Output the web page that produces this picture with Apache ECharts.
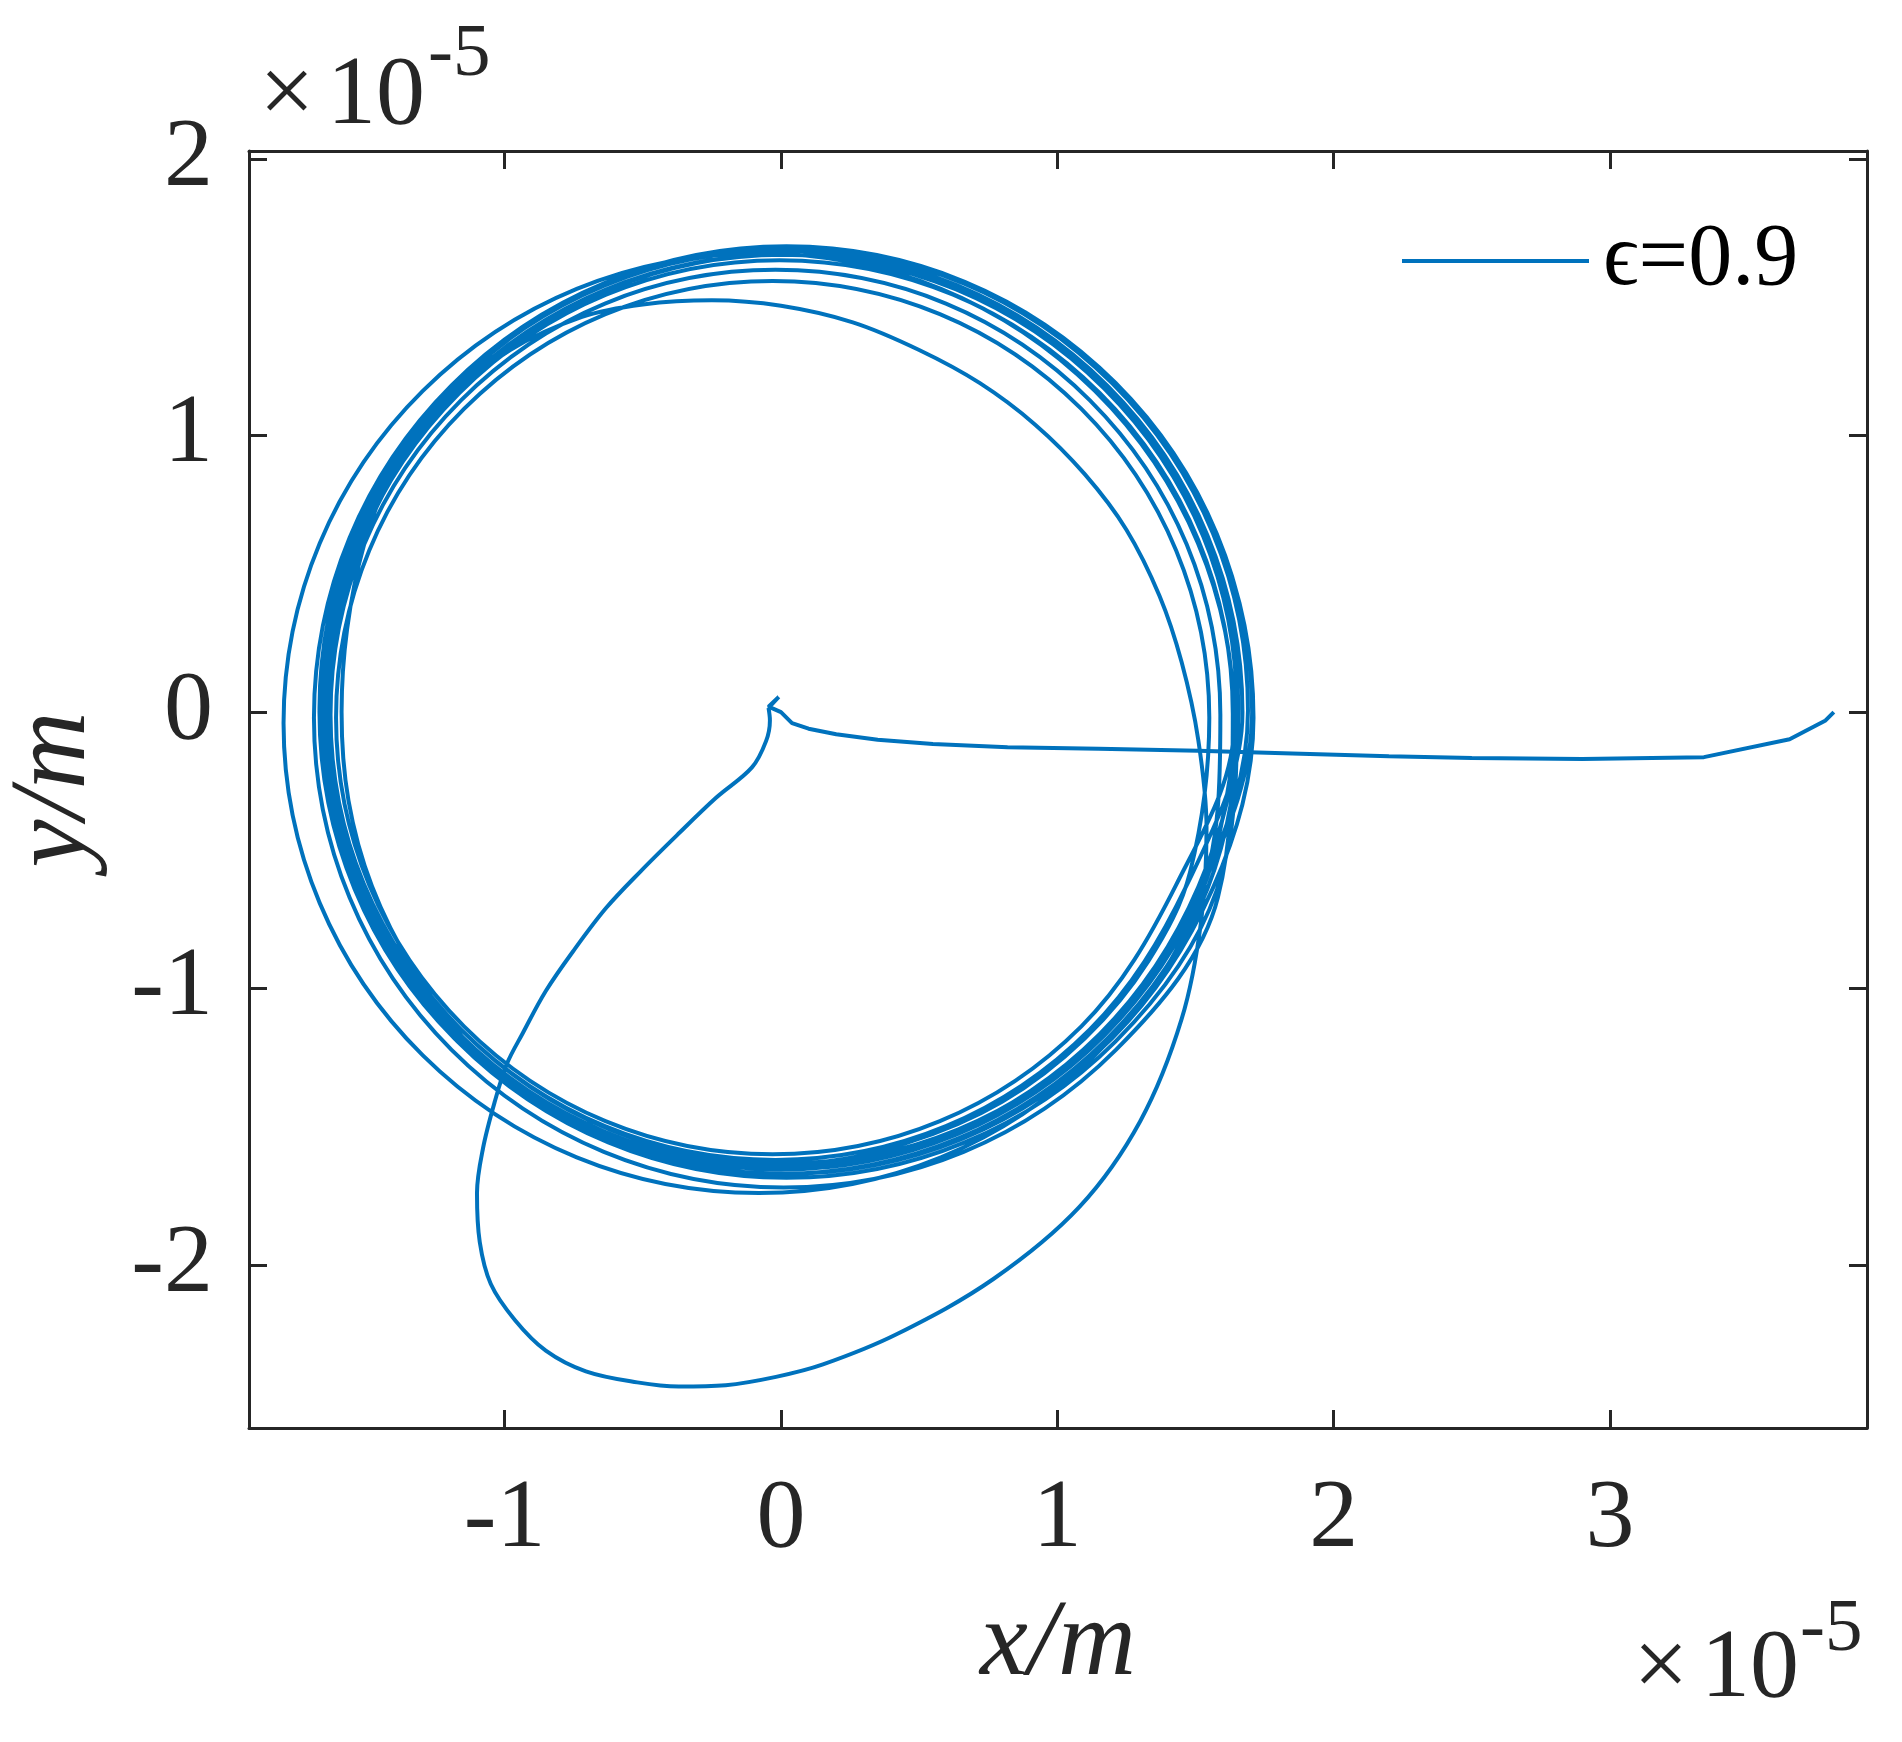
<!DOCTYPE html>
<html>
<head>
<meta charset="utf-8">
<title>orbit eps=0.9</title>
<script src="https://cdn.jsdelivr.net/npm/echarts@6/dist/echarts.min.js"></script>
<style>
  html, body { margin: 0; padding: 0; background: #fff; }
  #chart { width: 1902px; height: 1742px; }
</style>
</head>
<body>
<div id="chart"></div>
<script>
// all values in units of 1e-5 m
const xTicks = [-1, 0, 1, 2, 3]
const yTicks = [-2, -1, 0, 1, 2]
const legendName = 'ϵ=0.9'

// straight-ish approach from the far right end into the origin (with the small spike)
const approach = [
  [3.81, 0.0], [3.78, -0.03], [3.65, -0.098], [3.34, -0.163], [2.90, -0.17], [2.50, -0.166],
  [2.20, -0.16], [1.85, -0.15], [1.51, -0.14], [1.15, -0.133], [0.82, -0.127], [0.55, -0.115],
  [0.35, -0.10], [0.20, -0.08], [0.10, -0.06], [0.04, -0.04], [0.0, 0.0], [-0.045, 0.02],
  [-0.008, 0.055], [-0.045, 0.015]
]

// first big excursion below the orbit
const excursion = [
  [-0.045, 0.015], [-0.04, -0.03], [-0.054, -0.105], [-0.105, -0.20], [-0.235, -0.31],
  [-0.376, -0.445], [-0.507, -0.575], [-0.633, -0.709], [-0.749, -0.861], [-0.851, -1.009],
  [-0.934, -1.161], [-0.992, -1.273], [-1.035, -1.407], [-1.078, -1.577], [-1.10, -1.74],
  [-1.09, -1.917], [-1.05, -2.069], [-0.963, -2.199], [-0.851, -2.31], [-0.706, -2.385],
  [-0.52, -2.425], [-0.37, -2.44], [-0.20, -2.435], [-0.018, -2.405], [0.152, -2.36],
  [0.42, -2.25], [0.77, -2.05], [1.08, -1.79], [1.30, -1.48], [1.45, -1.11], [1.52, -0.76],
  [1.54, -0.42], [1.51, -0.10]
]

// first (innermost) turn
const loopA = [
  [1.45, 0.18], [1.37, 0.42], [1.25, 0.66], [1.10, 0.86], [0.92, 1.04], [0.72, 1.19],
  [0.50, 1.31], [0.26, 1.41], [0.0, 1.47], [-0.25, 1.49], [-0.50, 1.475], [-0.72, 1.43],
  [-0.98, 1.31], [-1.22, 1.12], [-1.41, 0.86], [-1.51, 0.60], [-1.57, 0.30], [-1.59, 0.0],
  [-1.565, -0.32], [-1.48, -0.63], [-1.33, -0.93], [-1.13, -1.20], [-0.88, -1.40],
  [-0.59, -1.545], [-0.28, -1.625], [0.08, -1.63], [0.45, -1.56], [0.80, -1.41], [1.10, -1.18],
  [1.33, -0.90], [1.48, -0.58]
]

const loopB = [
  [1.55, -0.02], [1.43, 0.585], [1.087, 1.097], [0.575, 1.44], [-0.03, 1.56], [-0.635, 1.44],
  [-1.147, 1.097], [-1.49, 0.585], [-1.61, -0.02], [-1.49, -0.625], [-1.147, -1.137],
  [-0.635, -1.48], [-0.03, -1.60], [0.575, -1.48], [1.087, -1.137], [1.43, -0.625]
]

const loopC = [
  [1.64, -0.04], [1.509, 0.611], [1.136, 1.162], [0.579, 1.531], [-0.08, 1.66], [-0.739, 1.531],
  [-1.296, 1.162], [-1.669, 0.611], [-1.80, -0.04], [-1.669, -0.691], [-1.296, -1.242],
  [-0.739, -1.611], [-0.08, -1.74], [0.579, -1.611], [1.136, -1.242], [1.509, -0.691]
]

const loopD = [
  [1.59, -0.01], [1.468, 0.607], [1.118, 1.128], [0.597, 1.478], [-0.02, 1.60], [-0.637, 1.478],
  [-1.158, 1.128], [-1.508, 0.607], [-1.63, -0.01], [-1.508, -0.627], [-1.158, -1.148],
  [-0.637, -1.498], [-0.02, -1.62], [0.597, -1.498], [1.118, -1.148], [1.468, -0.627]
]

const loopE = [
  [1.67, 0], [1.543, 0.64], [1.181, 1.181], [0.64, 1.543], [0, 1.67], [-0.64, 1.543],
  [-1.181, 1.181], [-1.543, 0.64], [-1.67, 0], [-1.543, -0.64], [-1.181, -1.181],
  [-0.64, -1.543], [0, -1.67], [0.64, -1.543], [1.181, -1.181], [1.543, -0.64]
]

const loopF = [
  [1.655, 0.01], [1.53, 0.64], [1.173, 1.173], [0.64, 1.53], [0.01, 1.655], [-0.62, 1.53],
  [-1.153, 1.173], [-1.51, 0.64], [-1.635, 0.01], [-1.51, -0.62], [-1.153, -1.153],
  [-0.62, -1.51], [0.01, -1.635], [0.64, -1.51], [1.173, -1.153], [1.53, -0.62]
]

const loopG = [
  [1.705, 0], [1.577, 0.645], [1.211, 1.191], [0.665, 1.557], [0.02, 1.685], [-0.625, 1.557],
  [-1.171, 1.191], [-1.537, 0.645], [-1.665, 0], [-1.537, -0.645], [-1.171, -1.191],
  [-0.625, -1.557], [0.02, -1.685], [0.665, -1.557], [1.211, -1.191], [1.577, -0.645]
]

const loopH = [
  [1.65, 0.01], [1.524, 0.646], [1.164, 1.184], [0.626, 1.544], [-0.01, 1.67], [-0.646, 1.544],
  [-1.184, 1.184], [-1.544, 0.646], [-1.67, 0.01], [-1.544, -0.626], [-1.184, -1.164],
  [-0.646, -1.524], [-0.01, -1.65], [0.626, -1.524], [1.164, -1.164], [1.524, -0.626]
]

const loopK = [
  [1.69, 0.005], [1.563, 0.647], [1.199, 1.189], [0.657, 1.553], [0.015, 1.68], [-0.627, 1.553],
  [-1.169, 1.189], [-1.533, 0.647], [-1.66, 0.005], [-1.533, -0.637], [-1.169, -1.179],
  [-0.627, -1.543], [0.015, -1.67], [0.657, -1.543], [1.199, -1.179], [1.563, -0.637]
]

const loopI = [
  [1.71, -0.02], [1.581, 0.631], [1.212, 1.182], [0.661, 1.551], [0.01, 1.68], [-0.641, 1.551],
  [-1.192, 1.182], [-1.561, 0.631], [-1.69, -0.02], [-1.561, -0.671], [-1.192, -1.222],
  [-0.641, -1.591], [0.01, -1.72], [0.661, -1.591], [1.212, -1.222], [1.581, -0.671]
]

const loopL = [
  [1.635, -0.005], [1.51, 0.623], [1.154, 1.154], [0.623, 1.51], [-0.005, 1.635], [-0.633, 1.51],
  [-1.164, 1.154], [-1.52, 0.623], [-1.645, -0.005], [-1.52, -0.633], [-1.164, -1.164],
  [-0.633, -1.52], [-0.005, -1.645], [0.623, -1.52], [1.154, -1.164], [1.51, -0.633]
]

const loopJ = [
  [1.655, 0], [1.529, 0.634], [1.17, 1.17], [0.634, 1.529], [0, 1.655], [-0.634, 1.529],
  [-1.17, 1.17], [-1.529, 0.634], [-1.655, 0], [-1.529, -0.634], [-1.17, -1.17],
  [-0.634, -1.529], [0, -1.655], [0.634, -1.529], [1.17, -1.17], [1.529, -0.634], [1.655, 0]
]

const orbit = [].concat(excursion, loopA, loopB, loopC, loopD, loopE, loopF, loopG, loopH,
  loopK, loopI, loopL, loopJ)

const serif = "'Liberation Serif', 'Times New Roman', serif"
const axisColor = '#262626'
const lineColor = '#0072BD'

const chart = echarts.init(document.getElementById('chart'), null, {renderer: 'canvas'})

// box axes (MATLAB style, ticks inside on all four sides)
const boxAxis = (extra) => Object.assign({
  type: 'value',
  scale: true,
  splitLine: {show: false},
  axisLine: {show: true, onZero: false, lineStyle: {color: axisColor, width: 3}},
  axisTick: {show: true, inside: true, length: 18, lineStyle: {color: axisColor, width: 3}},
  axisLabel: {show: false}
}, extra)

const option = {
  animation: false,
  backgroundColor: '#fff',
  grid: {left: 249, top: 151, width: 1618, height: 1277, containLabel: false, outerBoundsMode: 'none'},
  legend: {
    data: [legendName],
    left: 1400,
    top: 217,
    padding: 0,
    itemWidth: 187,
    itemHeight: 20,
    itemStyle: {opacity: 0},
    lineStyle: {width: 4},
    textStyle: {fontFamily: serif, fontSize: 88, color: '#000', padding: [0, 0, 0, 9]}
  },
  xAxis: [
    boxAxis({
      position: 'bottom',
      min: -1.925, max: 3.93,
      axisTick: {show: true, inside: true, length: 18, customValues: xTicks, lineStyle: {color: axisColor, width: 3}},
      axisLabel: {show: true, customValues: xTicks, margin: 43, fontFamily: serif, fontSize: 98, color: axisColor},
      name: 'x/m',
      nameLocation: 'middle',
      nameGap: 164,
      nameTextStyle: {fontFamily: serif, fontStyle: 'italic', fontSize: 108, color: axisColor}
    }),
    boxAxis({
      position: 'top',
      min: -1.925, max: 3.93,
      axisTick: {show: true, inside: true, length: 18, customValues: xTicks, lineStyle: {color: axisColor, width: 3}}
    })
  ],
  yAxis: [
    boxAxis({
      position: 'left',
      min: -2.59, max: 2.03,
      axisTick: {show: true, inside: true, length: 18, customValues: yTicks, lineStyle: {color: axisColor, width: 3}},
      axisLabel: {show: true, customValues: yTicks, margin: 36, fontFamily: serif, fontSize: 98, color: axisColor},
      name: 'y/m',
      nameLocation: 'middle',
      nameGap: 139,
      nameTextStyle: {fontFamily: serif, fontStyle: 'italic', fontSize: 108, color: axisColor}
    }),
    boxAxis({
      position: 'right',
      min: -2.59, max: 2.03,
      axisTick: {show: true, inside: true, length: 18, customValues: yTicks, lineStyle: {color: axisColor, width: 3}}
    })
  ],
  graphic: [
    // exponent above the y axis
    {type: 'text', x: 287, y: 97, style: {text: '×', font: '98px ' + serif, fill: axisColor, align: 'center', verticalAlign: 'middle'}},
    {type: 'text', x: 327, y: 97, style: {text: '10', font: '98px ' + serif, fill: axisColor, align: 'left', verticalAlign: 'middle'}},
    {type: 'text', x: 428, y: 55, style: {text: '-5', font: '75px ' + serif, fill: axisColor, align: 'left', verticalAlign: 'middle'}},
    // exponent below the x axis
    {type: 'text', x: 1661, y: 1670, style: {text: '×', font: '98px ' + serif, fill: axisColor, align: 'center', verticalAlign: 'middle'}},
    {type: 'text', x: 1701, y: 1670, style: {text: '10', font: '98px ' + serif, fill: axisColor, align: 'left', verticalAlign: 'middle'}},
    {type: 'text', x: 1800, y: 1630, style: {text: '-5', font: '75px ' + serif, fill: axisColor, align: 'left', verticalAlign: 'middle'}}
  ],
  series: [
    {
      name: legendName,
      type: 'line',
      data: approach,
      symbol: 'none',
      showSymbol: false,
      smooth: false,
      lineStyle: {color: lineColor, width: 4},
      itemStyle: {color: lineColor},
      z: 3
    },
    {
      name: legendName,
      type: 'line',
      data: orbit,
      symbol: 'none',
      showSymbol: false,
      smooth: 0.35,
      lineStyle: {color: lineColor, width: 4},
      itemStyle: {color: lineColor},
      z: 3
    }
  ]
}

chart.setOption(option)
</script>
</body>
</html>
